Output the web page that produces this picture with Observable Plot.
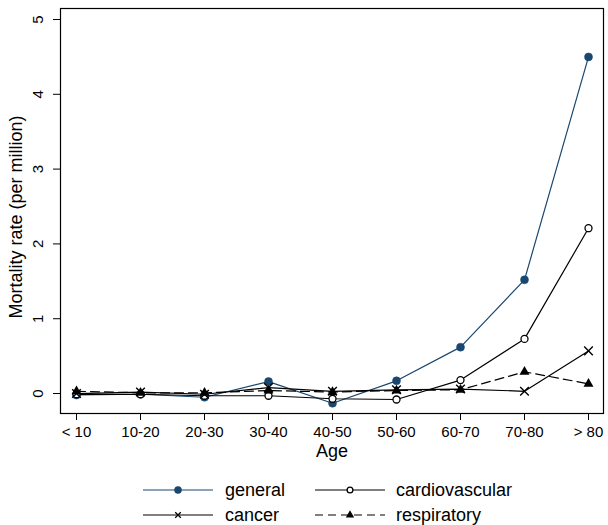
<!DOCTYPE html>
<html>
<head>
<meta charset="utf-8">
<script src="https://cdn.jsdelivr.net/npm/d3@7"></script>
<script src="https://cdn.jsdelivr.net/npm/@observablehq/plot@0.6"></script>
<style>
  html, body { margin: 0; padding: 0; background: #fff; }
  body { width: 608px; height: 525px; overflow: hidden; font-family: "Liberation Sans", Arial, sans-serif; }
  #legend { display: block; }
  #chart svg { display: block; }
</style>
</head>
<body>
<div id="chart"></div>
<svg id="legend" width="608" height="60"></svg>
<script>
const ages = ["< 10", "10-20", "20-30", "30-40", "40-50", "50-60", "60-70", "70-80", "> 80"];
const general = [-0.02, -0.01, -0.05, 0.16, -0.13, 0.17, 0.62, 1.52, 4.50];
const cardiovascular = [-0.01, -0.01, -0.03, -0.03, -0.07, -0.08, 0.18, 0.73, 2.21];
const cancer = [0.00, 0.02, -0.01, 0.08, 0.03, 0.05, 0.06, 0.03, 0.57];
const respiratory = [0.03, 0.01, 0.01, 0.04, 0.02, 0.04, 0.05, 0.29, 0.13];
const yTicks = [0, 1, 2, 3, 4, 5];
const seriesNames = ["general", "cardiovascular", "cancer", "respiratory"];

const navy = "#1a476f";
const toRows = (vals) => ages.map((a, i) => ({age: a, value: vals[i]}));
const gRows = toRows(general), cvRows = toRows(cardiovascular), caRows = toRows(cancer), reRows = toRows(respiratory);

const font = "Liberation Sans, Arial, sans-serif";

const chart = Plot.plot({
  width: 608,
  height: 465,
  marginLeft: 60,
  marginRight: 5,
  marginTop: 8,
  marginBottom: 52,
  style: {fontFamily: font, background: "white"},
  x: {type: "point", domain: ages, padding: 0.18},
  y: {domain: [-0.267, 5.147]},
  marks: [
    Plot.axisX({tickSize: 7, tickPadding: 6, fontSize: 15, label: null, color: "black", stroke: "black"}),
    Plot.axisY({ticks: yTicks, tickSize: 7, tickFormat: () => "", label: null, stroke: "black"}),
    Plot.text(yTicks, {y: d => d, text: d => String(d), frameAnchor: "left", textAnchor: "middle", lineAnchor: "middle", dx: -22, rotate: -90, fontSize: 15, fill: "black"}),
    Plot.text(["Mortality rate (per million)"], {frameAnchor: "left", textAnchor: "middle", lineAnchor: "middle", dx: -44, dy: 6, rotate: -90, fontSize: 18, fill: "black"}),
    Plot.text(["Age"], {frameAnchor: "bottom", textAnchor: "middle", lineAnchor: "middle", dy: 38, fontSize: 18, fill: "black"}),
    Plot.line(gRows, {x: "age", y: "value", stroke: navy, strokeWidth: 1.2}),
    Plot.dot(gRows, {x: "age", y: "value", r: 4, fill: navy, stroke: navy, strokeWidth: 0.5}),
    Plot.line(cvRows, {x: "age", y: "value", stroke: "black", strokeWidth: 1.2}),
    Plot.dot(cvRows, {x: "age", y: "value", r: 3.5, fill: "white", stroke: "black", strokeWidth: 1.3}),
    Plot.line(caRows, {x: "age", y: "value", stroke: "black", strokeWidth: 1.2}),
    Plot.dot(caRows, {x: "age", y: "value", symbol: "times", r: 4, stroke: "black", strokeWidth: 1.4}),
    Plot.line(reRows, {x: "age", y: "value", stroke: "black", strokeWidth: 1.2, strokeDasharray: "9,5"}),
    Plot.dot(reRows, {x: "age", y: "value", symbol: "triangle", r: 3.7, fill: "black", stroke: "none"}),
    Plot.frame({stroke: "black", strokeWidth: 1.2})
  ]
});
document.getElementById("chart").appendChild(chart);

// Legend
const lg = d3.select("#legend");
const cols = [{x0: 143, x1: 213, tx: 225}, {x0: 315, x1: 385, tx: 396}];
const rowsY = [25, 50];
const styles = {
  general: {stroke: navy, dash: null, symbol: d3.symbolCircle, size: 44, fill: navy, sstroke: "none"},
  cardiovascular: {stroke: "black", dash: null, symbol: d3.symbolCircle, size: 26, fill: "white", sstroke: "black"},
  cancer: {stroke: "black", dash: null, symbol: d3.symbolTimes, size: 22, fill: "none", sstroke: "black"},
  respiratory: {stroke: "black", dash: "8,5", symbol: d3.symbolTriangle, size: 30, fill: "black", sstroke: "none"}
};
seriesNames.forEach((name, i) => {
  const c = cols[i % 2], y = rowsY[Math.floor(i / 2)], s = styles[name];
  const cx = (c.x0 + c.x1) / 2;
  const line = lg.append("line").attr("x1", c.x0).attr("x2", c.x1).attr("y1", y).attr("y2", y)
    .attr("stroke", s.stroke).attr("stroke-width", 1.2);
  if (s.dash) line.attr("stroke-dasharray", s.dash);
  lg.append("path").attr("d", d3.symbol(s.symbol, s.size)()).attr("transform", `translate(${cx},${y})`)
    .attr("fill", s.fill).attr("stroke", s.sstroke).attr("stroke-width", 1.3);
  lg.append("text").attr("x", c.tx).attr("y", y).attr("dy", "0.35em")
    .attr("font-family", font).attr("font-size", 18).attr("fill", "black").text(name);
});
</script>
</body>
</html>
